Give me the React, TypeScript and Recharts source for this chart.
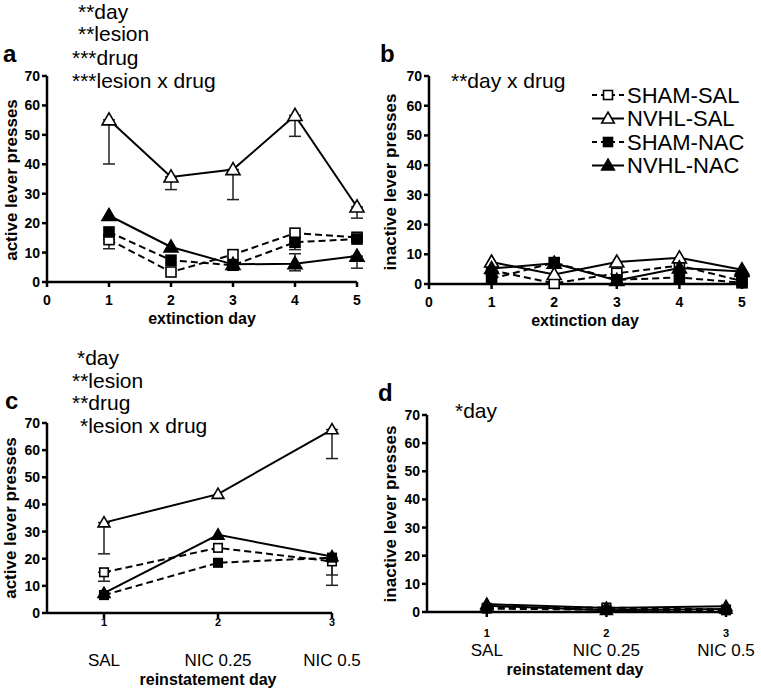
import React from "react";
import { LineChart, Line, XAxis, YAxis, ErrorBar, Legend } from "recharts";

const FONT = "'Liberation Sans', Arial, Helvetica, sans-serif";

const extinctionDays = [1, 2, 3, 4, 5];
const extinctionTicks = [0, 1, 2, 3, 4, 5];
const reinstatementDays = [1, 2, 3];
const reinstatementDrugs = ["SAL", "NIC 0.25", "NIC 0.5"];
const pressTicks = [0, 10, 20, 30, 40, 50, 60, 70];
const groupNames = ["SHAM-SAL", "NVHL-SAL", "SHAM-NAC", "NVHL-NAC"];

// a: active lever presses during extinction
const shamSalActiveExt = [14.4, 3.4, 9.3, 16.6, 15.2];
const nvhlSalActiveExt = [55.1, 35.7, 38.2, 56.6, 25.5];
const shamNacActiveExt = [17.0, 7.4, 5.7, 13.5, 14.6];
const nvhlNacActiveExt = [22.6, 11.9, 6.0, 6.2, 8.8];
// SEM as [below, above]
const shamSalActiveExtErr = [[3.1, 0], null, null, null, null];
const nvhlSalActiveExtErr = [[15, 0], [4.3, 0], [10.2, 0], [7.1, 0], [3.8, 0]];
const shamNacActiveExtErr = [null, null, null, [2.5, 0], null];
const nvhlNacActiveExtErr = [null, null, null, [2.4, 3.4], [4.1, 0]];

// b: inactive lever presses during extinction
const shamSalInactiveExt = [4.6, 0.2, 3.6, 6.2, 1.0];
const nvhlSalInactiveExt = [7.4, 3.2, 7.4, 8.8, 4.8];
const shamNacInactiveExt = [1.8, 7.2, 1.4, 2.2, 0.4];
const nvhlNacInactiveExt = [5.2, 7.0, 1.2, 5.4, 4.2];

// c: active lever presses during reinstatement
const shamSalActiveRein = [15.0, 24.0, 19.0];
const nvhlSalActiveRein = [33.3, 43.8, 67.6];
const shamNacActiveRein = [6.6, 18.5, 20.4];
const nvhlNacActiveRein = [7.3, 28.8, 20.8];
const shamSalActiveReinErr = [[3.3, 0], null, [5.0, 0]];
const nvhlSalActiveReinErr = [[11.5, 0], null, [10.7, 0]];
const shamNacActiveReinErr = [null, null, [10.2, 0]];
const nvhlNacActiveReinErr = [null, null, null];

// d: inactive lever presses during reinstatement
const shamSalInactiveRein = [1.5, 1.6, 0.9];
const nvhlSalInactiveRein = [2.8, 1.4, 2.0];
const shamNacInactiveRein = [1.2, 0.8, 0.6];
const nvhlNacInactiveRein = [2.2, 0.6, 1.1];

const SERIES = [
  { key: "shamSal", kind: "openSquare", dashed: true },
  { key: "nvhlSal", kind: "openTriangle", dashed: false },
  { key: "shamNac", kind: "filledSquare", dashed: true },
  { key: "nvhlNac", kind: "filledTriangle", dashed: false },
];

const buildRows = (days: number[], values: number[][], errs?: any[][]) =>
  days.map((day, i) => {
    const row: any = { day };
    SERIES.forEach((s, j) => {
      row[s.key] = values[j][i];
      row[s.key + "Err"] = errs ? errs[j][i] : null;
    });
    return row;
  });

const rowsA = buildRows(
  extinctionDays,
  [shamSalActiveExt, nvhlSalActiveExt, shamNacActiveExt, nvhlNacActiveExt],
  [shamSalActiveExtErr, nvhlSalActiveExtErr, shamNacActiveExtErr, nvhlNacActiveExtErr]
);
const rowsB = buildRows(extinctionDays, [
  shamSalInactiveExt,
  nvhlSalInactiveExt,
  shamNacInactiveExt,
  nvhlNacInactiveExt,
]);
const rowsC = buildRows(
  reinstatementDays,
  [shamSalActiveRein, nvhlSalActiveRein, shamNacActiveRein, nvhlNacActiveRein],
  [shamSalActiveReinErr, nvhlSalActiveReinErr, shamNacActiveReinErr, nvhlNacActiveReinErr]
);
const rowsD = buildRows(reinstatementDays, [
  shamSalInactiveRein,
  nvhlSalInactiveRein,
  shamNacInactiveRein,
  nvhlNacInactiveRein,
]);

const Marker = ({ cx, cy, kind, scale = 1 }: any) => {
  const open = kind.startsWith("open");
  const fill = open ? "#fff" : "#000";
  if (kind.endsWith("Square")) {
    const h = 5 * scale;
    return (
      <rect x={cx - h} y={cy - h} width={2 * h} height={2 * h} fill={fill} stroke="#000" strokeWidth={1.6} />
    );
  }
  const w = 7 * scale;
  return (
    <polygon
      points={`${cx},${cy - 7 * scale} ${cx - w},${cy + 5 * scale} ${cx + w},${cy + 5 * scale}`}
      fill={fill}
      stroke="#000"
      strokeWidth={1.6}
    />
  );
};

const makeDot = (kind: string, scale: number) => (props: any) => {
  const { cx, cy, index } = props;
  if (cx == null || cy == null) return <g key={`${kind}-${index}`} />;
  return <Marker key={`${kind}-${index}`} cx={cx} cy={cy} kind={kind} scale={scale} />;
};

const axisStroke = { stroke: "#000", strokeWidth: 2.5 };
const tickFont = { fill: "#000", fontSize: 14, fontWeight: "bold", fontFamily: FONT };

const ReinstatementTick = ({ x, y, payload, numDy, nameDy }: any) => (
  <g>
    <text x={x} y={y + numDy} textAnchor="middle" dominantBaseline="central" fontSize={11} fontWeight="bold" fontFamily={FONT} fill="#000">
      {payload.value}
    </text>
    <text x={x} y={y + nameDy} textAnchor="middle" dominantBaseline="central" fontSize={17} fontFamily={FONT} fill="#000">
      {reinstatementDrugs[payload.value - 1]}
    </text>
  </g>
);

const LegendBox = () => (
  <svg width={175} height={100}>
    {SERIES.map((s, i) => {
      const y = 11 + i * 23.5;
      return (
        <g key={s.key}>
          <line x1={2} x2={34} y1={y} y2={y} stroke="#000" strokeWidth={2} strokeDasharray={s.dashed ? "5 4" : undefined} />
          <Marker cx={18} cy={y} kind={s.kind} scale={0.9} />
          <text x={37} y={y} dominantBaseline="central" fontSize={22} fontFamily={FONT} fill="#000">
            {groupNames[i]}
          </text>
        </g>
      );
    })}
  </svg>
);

const Panel = ({ rows, left, top, width, height, margin, yWidth, xHeight, xDomain, xTicks, tick, tickMargin, markerScale, legend }: any) => (
  <div style={{ position: "absolute", left, top }}>
    <LineChart width={width} height={height} data={rows} margin={margin} style={{ overflow: "visible" }}>
      <XAxis
        type="number"
        dataKey="day"
        domain={xDomain}
        ticks={xTicks}
        interval={0}
        height={xHeight}
        axisLine={axisStroke}
        tickLine={axisStroke}
        tickSize={5}
        tickMargin={tickMargin}
        tick={tick}
      />
      <YAxis
        type="number"
        domain={[0, 70]}
        ticks={pressTicks}
        interval={0}
        width={yWidth}
        axisLine={axisStroke}
        tickLine={axisStroke}
        tickSize={5}
        tickMargin={2}
        tick={tickFont}
      />
      {SERIES.map((s) => (
        <Line
          key={s.key}
          dataKey={s.key}
          type="linear"
          stroke="#000"
          strokeWidth={2}
          strokeDasharray={s.dashed ? "7 4" : undefined}
          dot={makeDot(s.kind, markerScale)}
          activeDot={false}
          isAnimationActive={false}
        >
          <ErrorBar dataKey={s.key + "Err"} direction="y" width={6} stroke="#222" strokeWidth={1.5} isAnimationActive={false} />
        </Line>
      ))}
      {legend && (
        <Legend
          layout="vertical"
          align="center"
          verticalAlign="middle"
          content={() => <LegendBox />}
          wrapperStyle={{ left: 210, top: 84, width: 175, height: 100 }}
        />
      )}
    </LineChart>
  </div>
);

const T = ({ x, y, children, size = 21, bold = false, anchor = "start", rotate = false }: any) => (
  <text
    x={x}
    y={y}
    fontSize={size}
    fontWeight={bold ? "bold" : "normal"}
    fontFamily={FONT}
    textAnchor={anchor}
    dominantBaseline="central"
    fill="#000"
    transform={rotate ? `rotate(-90 ${x} ${y})` : undefined}
  >
    {children}
  </text>
);

export default function App() {
  return (
    <div style={{ position: "absolute", left: 0, top: 0, width: 761, height: 689, background: "#fff" }}>
      <Panel
        rows={rowsA}
        left={0}
        top={0}
        width={380}
        height={340}
        margin={{ top: 76, right: 23, bottom: 28, left: 0 }}
        yWidth={47}
        xHeight={30}
        xDomain={[0, 5]}
        xTicks={extinctionTicks}
        tick={tickFont}
        tickMargin={8}
        markerScale={1}
      />
      <Panel
        rows={rowsB}
        left={380}
        top={0}
        width={381}
        height={340}
        margin={{ top: 76, right: 19, bottom: 26, left: 0 }}
        yWidth={49}
        xHeight={30}
        xDomain={[0, 5]}
        xTicks={extinctionTicks}
        tick={tickFont}
        tickMargin={8}
        markerScale={1}
        legend
      />
      <Panel
        rows={rowsC}
        left={0}
        top={340}
        width={380}
        height={349}
        margin={{ top: 83, right: 48, bottom: 16, left: 0 }}
        yWidth={47}
        xHeight={60}
        xDomain={[0.5, 3]}
        xTicks={reinstatementDays}
        tick={<ReinstatementTick numDy={2} nameDy={40} />}
        tickMargin={2}
        markerScale={0.85}
      />
      <Panel
        rows={rowsD}
        left={380}
        top={340}
        width={381}
        height={349}
        margin={{ top: 75, right: 35, bottom: 17, left: 0 }}
        yWidth={47}
        xHeight={60}
        xDomain={[0.5, 3]}
        xTicks={reinstatementDays}
        tick={<ReinstatementTick numDy={14} nameDy={31} />}
        tickMargin={2}
        markerScale={0.85}
      />
      <svg width={761} height={689} style={{ position: "absolute", left: 0, top: 0, pointerEvents: "none" }}>
        <T x={3} y={53} size={24} bold>a</T>
        <T x={78} y={11}>**day</T>
        <T x={78} y={33}>**lesion</T>
        <T x={72} y={57}>***drug</T>
        <T x={72} y={80}>***lesion x drug</T>
        <T x={11} y={180} size={17} bold anchor="middle" rotate>active lever presses</T>
        <T x={202} y={318} size={16} bold anchor="middle">extinction day</T>

        <T x={380} y={53} size={24} bold>b</T>
        <T x={451} y={80}>**day x drug</T>
        <T x={390} y={182} size={17} bold anchor="middle" rotate>inactive lever presses</T>
        <T x={585} y={320} size={16} bold anchor="middle">extinction day</T>

        <T x={5} y={400} size={24} bold>c</T>
        <T x={77} y={357}>*day</T>
        <T x={72} y={380}>**lesion</T>
        <T x={72} y={402}>**drug</T>
        <T x={80} y={425}>*lesion x drug</T>
        <T x={10} y={518} size={17} bold anchor="middle" rotate>active lever presses</T>
        <T x={208} y={679} size={16} bold anchor="middle">reinstatement day</T>

        <T x={378} y={392} size={24} bold>d</T>
        <T x={455} y={410}>*day</T>
        <T x={390} y={514} size={17} bold anchor="middle" rotate>inactive lever presses</T>
        <T x={575} y={669} size={16} bold anchor="middle">reinstatement day</T>
      </svg>
    </div>
  );
}
